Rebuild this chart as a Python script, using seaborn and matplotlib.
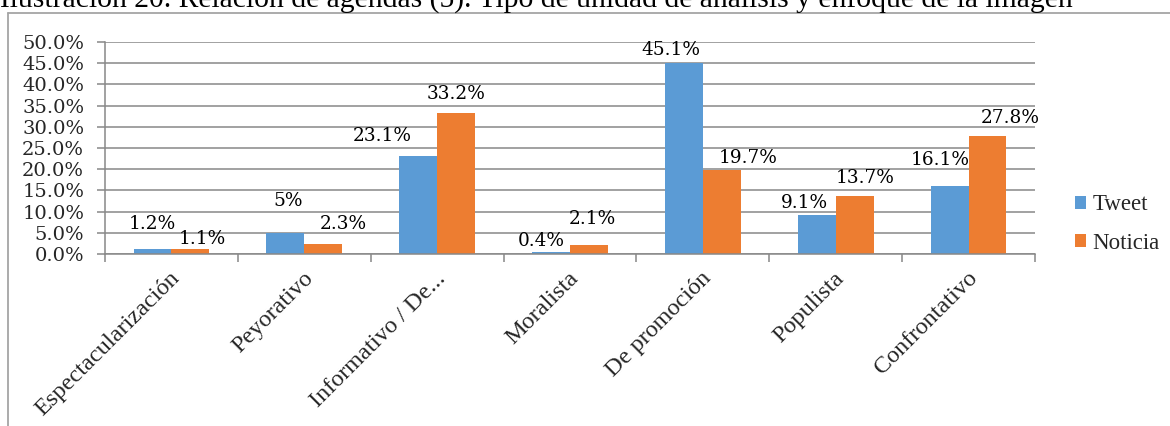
import matplotlib
matplotlib.use("Agg")
import matplotlib.pyplot as plt
from matplotlib.patches import Patch
from matplotlib.lines import Line2D
import matplotlib.transforms as mtransforms
import numpy as np
import pandas as pd
import seaborn as sns

# Chart data
categories = ["Espectacularización", "Peyorativo", "Informativo / De...",
              "Moralista", "De promoción", "Populista", "Confrontativo"]
series_names = ["Tweet", "Noticia"]
tweet = [1.2, 5, 23.1, 0.4, 45.1, 9.1, 16.1]
noticia = [1.1, 2.3, 33.2, 2.1, 19.7, 13.7, 27.8]
y_ticks = [0, 5, 10, 15, 20, 25, 30, 35, 40, 45, 50]

title = "Ilustración 20. Relación de agendas (5). Tipo de unidad de análisis y enfoque de la imagen"

# Label placement (pixels): horizontal shift and gap above the bar top
tweet_label_shift = [(-0.5, 20), (3, 27), (-36, 15.4), (-10, 6), (-13.5, 8), (-12.7, 7.6), (-9.2, 21)]
noticia_label_shift = [(12.3, 5.3), (20, 15), (0, 14), (3.3, 21), (26.6, 7), (10.4, 13), (23, 13.5)]

colors = ["#5B9BD5", "#ED7D31"]
grid_color = "#888888"
serif_num = "DejaVu Serif"
serif_txt = "Liberation Serif"

df = pd.DataFrame({
    "categoria": categories * 2,
    "serie": [series_names[0]] * len(categories) + [series_names[1]] * len(categories),
    "valor": tweet + noticia,
})

sns.set_theme(style="white")
plt.rcParams["font.family"] = [serif_txt, "DejaVu Serif"]

W, H = 1170, 426
fig = plt.figure(figsize=(W / 100, H / 100), dpi=100)

def fx(px):
    return px / W

def fy(py):
    return 1 - py / H

# Caption above the chart frame
fig.text(fx(0), fy(7), title, fontsize=21.35, family=serif_txt, color="black",
         ha="left", va="baseline")

# Chart frame (open towards the right and bottom)
frame_kw = dict(color="#A5A5A5", lw=1.3, transform=fig.transFigure)
fig.add_artist(Line2D([fx(8), 1.0], [fy(12.5), fy(12.5)], **frame_kw))
fig.add_artist(Line2D([fx(8), fx(8)], [fy(12.5), 0.0], **frame_kw))

ax = fig.add_axes([fx(105), fy(254), fx(1035) - fx(105), fy(42) - fy(254)])

sns.barplot(data=df, x="categoria", y="valor", hue="serie", order=categories,
            hue_order=series_names, palette=colors, saturation=1, width=0.57,
            dodge=True, legend=False, ax=ax, linewidth=0)

ax.set_ylim(0, 50)
ax.set_xlim(-0.5, len(categories) - 0.5)
ax.set_yticks(y_ticks)
ax.set_yticklabels([f"{v:.1f}%" for v in y_ticks], family=serif_num, fontsize=14)
ax.yaxis.grid(True, color=grid_color, lw=1.1)
ax.set_axisbelow(True)
ax.set_xlabel("")
ax.set_ylabel("")

for side in ["top", "right"]:
    ax.spines[side].set_visible(False)
for side in ["left", "bottom"]:
    ax.spines[side].set_color(grid_color)
    ax.spines[side].set_linewidth(1.1)

ax.tick_params(axis="y", which="major", length=6, width=1.1, color=grid_color,
               direction="out", pad=9, left=True)

# Category boundaries carry the x tick marks; labels sit at the centres
ax.set_xticks(np.arange(len(categories)))
ax.set_xticks(np.arange(len(categories) + 1) - 0.5, minor=True)
ax.tick_params(axis="x", which="major", length=0, pad=2)
ax.tick_params(axis="x", which="minor", length=6, width=1.1, color=grid_color,
               direction="out", bottom=True)
ax.set_xticklabels(categories, rotation=45, ha="right", va="top",
                   rotation_mode="anchor", family=serif_txt, fontsize=17.5)
offset = mtransforms.ScaledTranslation(-2 / 100, -11 / 100, fig.dpi_scale_trans)
for lbl in ax.get_xticklabels():
    lbl.set_transform(lbl.get_transform() + offset)

# Value labels above each bar
pt = 72 / 100
for container, shifts in zip(ax.containers, [tweet_label_shift, noticia_label_shift]):
    for bar, (dx, gap) in zip(container, shifts):
        v = bar.get_height()
        ax.annotate(f"{v:g}%", xy=(bar.get_x() + bar.get_width() / 2, v),
                    xytext=(dx * pt, gap * pt), textcoords="offset points",
                    ha="center", va="baseline", family=serif_num, fontsize=13.3,
                    color="black", annotation_clip=False)

handles = [Patch(facecolor=c, edgecolor="none") for c in colors]
fig.legend(handles, series_names, loc="center left",
           bbox_to_anchor=(fx(1075), fy(224)), frameon=False,
           prop={"family": serif_txt, "size": 16.5}, handlelength=0.5,
           handleheight=0.5, handletextpad=0.25, labelspacing=0.75,
           borderpad=0, borderaxespad=0)

fig.savefig("out.png", dpi=100)
